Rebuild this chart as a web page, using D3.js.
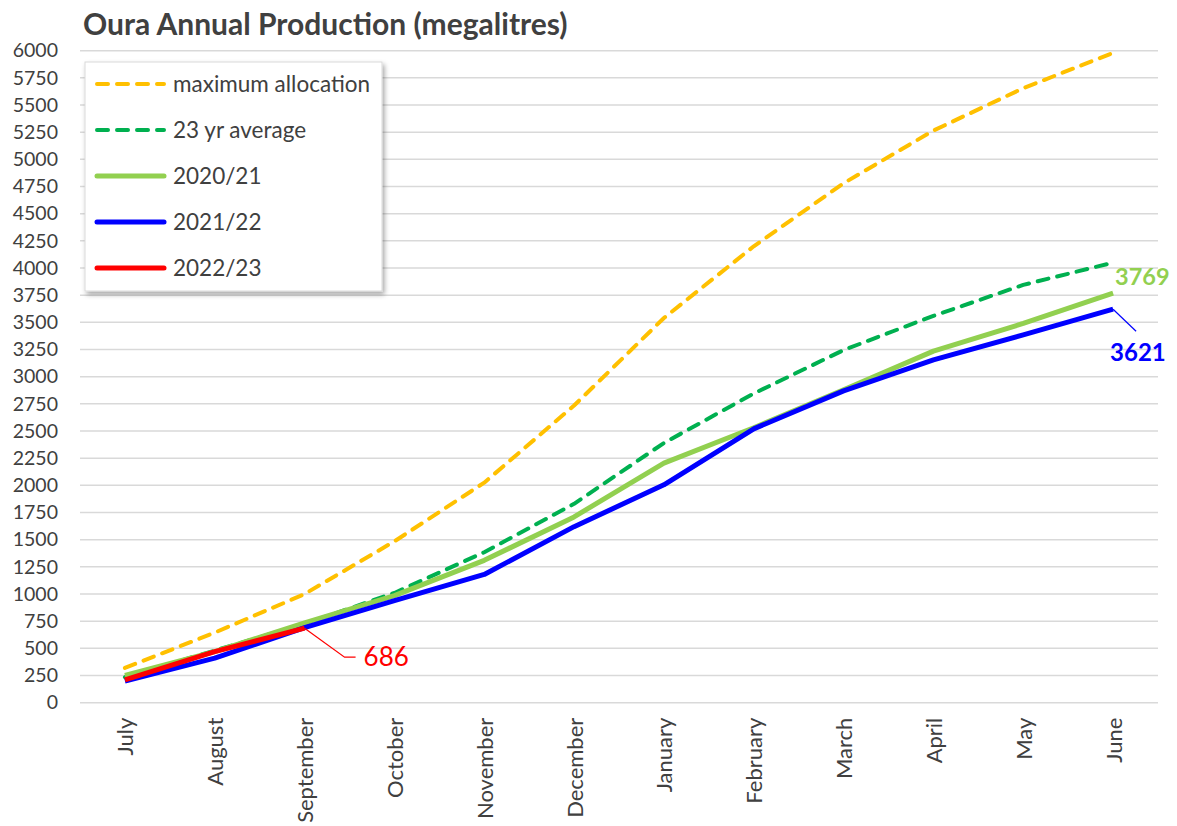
<!DOCTYPE html>
<html><head><meta charset="utf-8">
<script src="https://cdn.jsdelivr.net/npm/d3@7"></script>
<style>body{margin:0;background:#fff}svg{display:block}</style>
</head><body>
<svg id="c" width="1177" height="826"></svg>
<script>
const months = ["July","August","September","October","November","December","January","February","March","April","May","June"];
const yTicks = d3.range(0, 6001, 250);
const maxAllocation = [320, 645, 1000, 1485, 2025, 2735, 3540, 4200, 4780, 5265, 5655, 5980];
const avg23 = [235, 480, 725, 1010, 1385, 1830, 2390, 2845, 3245, 3560, 3845, 4050];
const y2020 = [250, 470, 735, 985, 1310, 1710, 2205, 2530, 2880, 3235, 3490, 3769];
const y2021 = [200, 410, 690, 940, 1180, 1620, 2005, 2520, 2870, 3155, 3385, 3621];
const y2022 = [210, 470, 686];

const series = [
  {name:"maximum allocation", values:maxAllocation, color:"#ffc000", dash:"11 9", w:4},
  {name:"23 yr average", values:avg23, color:"#00b050", dash:"11 9", w:4},
  {name:"2020/21", values:y2020, color:"#92d050", dash:null, w:5},
  {name:"2021/22", values:y2021, color:"#0000ff", dash:null, w:5},
  {name:"2022/23", values:y2022, color:"#ff0000", dash:null, w:5}
];

const svg = d3.select("#c");
const L = 80, R = 1158, T = 50.7, B = 702.7;
const x = d3.scalePoint().domain(months).range([L, R]).padding(0.5);
const y = d3.scaleLinear().domain([0, 6000]).range([B, T]);
const font = "Lato, 'Open Sans', sans-serif";

// grid
svg.append("g").selectAll("line").data(yTicks).join("line")
  .attr("x1", L).attr("x2", R).attr("y1", d=>y(d)).attr("y2", d=>y(d))
  .attr("stroke", "#d9d9d9").attr("stroke-width", 1.5);

// y axis labels
const ya = svg.append("g").attr("transform", `translate(${L},0)`)
  .call(d3.axisLeft(y).tickValues(yTicks).tickSize(0).tickPadding(22).tickFormat(d3.format("d")));
ya.select(".domain").remove();
ya.selectAll("text").attr("font-family", font).attr("font-size", 19.5).attr("fill", "#404040");

// x axis labels
const xa = svg.append("g").attr("transform", `translate(0,${B})`)
  .call(d3.axisBottom(x).tickSize(0).tickPadding(0));
xa.select(".domain").remove();
xa.selectAll("text").attr("font-family", font).attr("font-size", 22).attr("fill", "#404040")
  .attr("text-anchor", "end").attr("dy", null)
  .attr("transform", "translate(8,15) rotate(-90)");

// lines
const line = d3.line().x((d,i)=>x(months[i])).y(d=>y(d));
series.forEach(s => {
  svg.append("path").datum(s.values).attr("d", line)
    .attr("fill", "none").attr("stroke", s.color).attr("stroke-width", s.w)
    .attr("stroke-dasharray", s.dash).attr("stroke-linecap", s.dash ? "round" : "butt")
    .attr("stroke-linejoin", "round");
});

// annotations
const redEnd = [x(months[2]), y(686)];
svg.append("polyline").attr("points", `${redEnd[0]},${redEnd[1]} ${redEnd[0]+40},${redEnd[1]+29} ${redEnd[0]+51},${redEnd[1]+29}`)
  .attr("fill","none").attr("stroke","#ff0000").attr("stroke-width",1.2);
svg.append("text").attr("x", redEnd[0]+59).attr("y", redEnd[1]+38).text("686")
  .attr("font-family", font).attr("font-size", 26).attr("fill", "#ff0000");

const gEnd = [x(months[11]), y(3769)];
svg.append("text").attr("x", gEnd[0]+2).attr("y", gEnd[1]-8).text("3769")
  .attr("font-family", font).attr("font-size", 23.5).attr("font-weight", "bold").attr("fill", "#92d050");

const bEnd = [x(months[11]), y(3621)];
svg.append("line").attr("x1", bEnd[0]).attr("y1", bEnd[1]).attr("x2", bEnd[0]+23).attr("y2", bEnd[1]+22)
  .attr("stroke","#0000ff").attr("stroke-width",1.2);
svg.append("text").attr("x", bEnd[0]-3).attr("y", bEnd[1]+52).text("3621")
  .attr("font-family", font).attr("font-size", 24).attr("font-weight", "bold").attr("fill", "#0000ff");

// legend
const defs = svg.append("defs");
const f = defs.append("filter").attr("id","sh").attr("x","-10%").attr("y","-10%").attr("width","130%").attr("height","130%");
f.append("feDropShadow").attr("dx",2).attr("dy",3).attr("stdDeviation",2.5).attr("flood-color","#000").attr("flood-opacity",0.35);
const lg = svg.append("g").attr("transform","translate(85,62)");
lg.append("rect").attr("width",297).attr("height",229).attr("fill","#fff").attr("stroke","#d9d9d9").attr("filter","url(#sh)");
series.forEach((s,i) => {
  const yy = 22 + i*46;
  lg.append("line").attr("x1",12).attr("x2",79).attr("y1",yy).attr("y2",yy)
    .attr("stroke", s.color).attr("stroke-width", s.w).attr("stroke-dasharray", s.dash)
    .attr("stroke-linecap","round");
  lg.append("text").attr("x",88).attr("y",yy+8).text(s.name)
    .attr("font-family", font).attr("font-size", 22.5).attr("fill","#404040");
});

// title
svg.append("text").attr("x",83).attr("y",35).text("Oura Annual Production (megalitres)")
  .attr("font-family", font).attr("font-size", 30).attr("font-weight","bold").attr("fill","#404040");
</script>
</body></html>
